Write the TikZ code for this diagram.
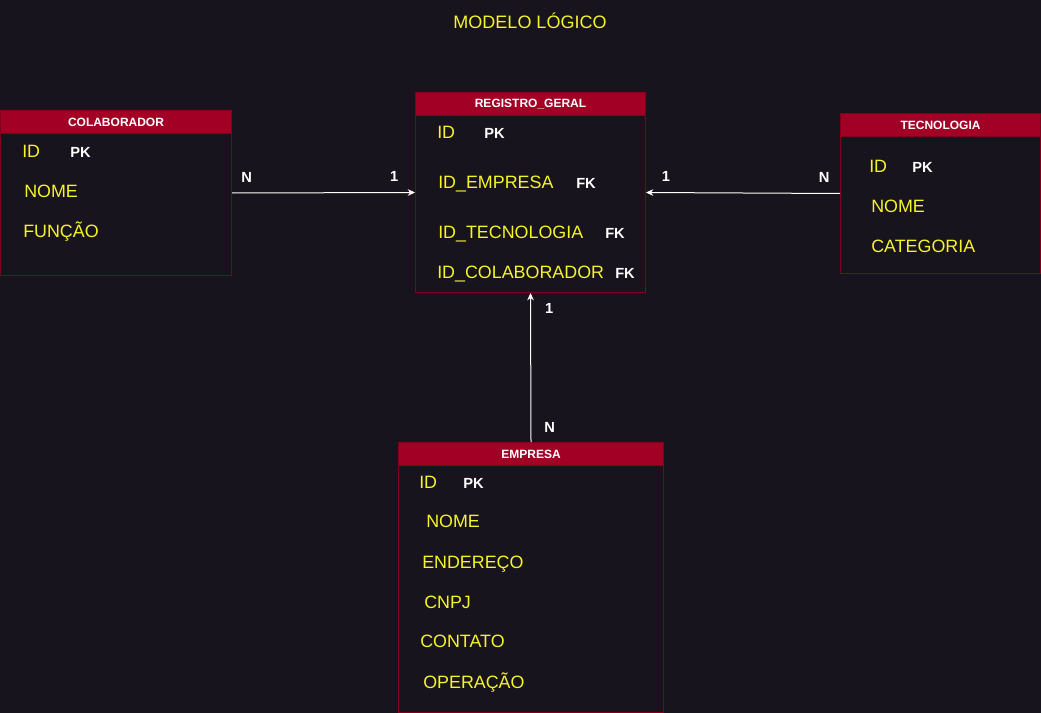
\documentclass[tikz,border=0pt]{standalone}
\usepackage{fontspec}
\setmainfont{Liberation Sans}
\usetikzlibrary{arrows.meta}
\definecolor{bgdark}{RGB}{24,20,29}
\definecolor{crimson}{HTML}{A20025}
\definecolor{crimsonline}{RGB}{128,0,28}
\definecolor{fieldyellow}{RGB}{245,245,40}

\begin{document}
\begin{tikzpicture}[x=0.75pt, y=-0.75pt,
    tablebox/.style={draw=crimsonline, line width=0.75pt, fill=bgdark, anchor=north west, inner sep=0pt},
    headbox/.style={draw=crimsonline, line width=0.75pt, fill=crimson, anchor=north west, inner sep=0pt,
        minimum height={23*0.75pt}, text=white, font=\bfseries\fontsize{9}{10}\selectfont},
    field/.style={anchor=base west, inner sep=0pt, text=fieldyellow, font=\fontsize{13.4}{15}\selectfont},
    key/.style={anchor=base west, inner sep=0pt, text=white, font=\bfseries\fontsize{11}{13}\selectfont},
    card/.style={inner sep=0pt, text=white, font=\bfseries\fontsize{11}{13}\selectfont},
    link/.style={draw=white, line width=0.75pt, -{Stealth[length=5.5pt, width=5pt]}}]

    \fill[bgdark] (0,0) rectangle (1041,713);
    \useasboundingbox (0,0) rectangle (1041,713);

    \node[text=fieldyellow, font=\fontsize{13.5}{15}\selectfont] (title) at (530,21) {MODELO LÓGICO};

    % tables
    \node[tablebox, minimum width={231*0.75pt}, minimum height={165*0.75pt}] (colab) at (0,110) {};
    \node[headbox, minimum width={231*0.75pt}] (colabhead) at (0,110) {COLABORADOR};
    \node[tablebox, minimum width={230*0.75pt}, minimum height={200*0.75pt}] (reg) at (415,92) {};
    \node[headbox, minimum width={230*0.75pt}] (reghead) at (415,92) {REGISTRO\_GERAL};
    \node[tablebox, minimum width={200*0.75pt}, minimum height={160*0.75pt}] (tec) at (840,113) {};
    \node[headbox, minimum width={200*0.75pt}] (techead) at (840,113) {TECNOLOGIA};
    \node[tablebox, minimum width={265*0.75pt}, minimum height={270*0.75pt}] (emp) at (398,442) {};
    \node[headbox, minimum width={265*0.75pt}] (emphead) at (398,442) {EMPRESA};

    % COLABORADOR
    \node[field] (colabid) at (22,157) {ID};
    \node[key] (colabpk) at (70,157) {PK};
    \node[field] (colabnome) at (24,197) {NOME};
    \node[field] (colabfuncao) at (23,237) {FUNÇÃO};

    % REGISTRO_GERAL
    \node[field] (regid) at (437,138.5) {ID};
    \node[key] (regpk) at (484,138.5) {PK};
    \node[field] (regemp) at (438,188.5) {ID\_EMPRESA};
    \node[key] (regfk1) at (576,188.5) {FK};
    \node[field] (regtec) at (438,238.5) {ID\_TECNOLOGIA};
    \node[key] (regfk2) at (605,238.5) {FK};
    \node[field] (regcolab) at (437,278.5) {ID\_COLABORADOR};
    \node[key] (regfk3) at (615,278.5) {FK};

    % TECNOLOGIA
    \node[field] (tecid) at (869,172.7) {ID};
    \node[key] (tecpk) at (912,172.7) {PK};
    \node[field] (tecnome) at (871,212.7) {NOME};
    \node[field] (teccat) at (871,252.7) {CATEGORIA};

    % EMPRESA
    \node[field] (empid) at (419,488.3) {ID};
    \node[key] (emppk) at (463,488.3) {PK};
    \node[field] (empnome) at (426,527.7) {NOME};
    \node[field] (empend) at (422,568.3) {ENDEREÇO};
    \node[field] (empcnpj) at (424,608.3) {CNPJ};
    \node[field] (empcontato) at (420,647.3) {CONTATO};
    \node[field] (empop) at (423,688.3) {OPERAÇÃO};

    % relationships
    \draw[link] (colab.east) -- node[card, pos=0.08, yshift=12pt] {N} node[card, pos=0.886, yshift=12pt] {1} (reg.west);
    \draw[link] (tec.west) -- node[card, pos=0.082, yshift=12pt] {N} node[card, pos=0.897, yshift=12pt] {1} (reg.east);
    \draw[link] (emp.north) -- node[card, pos=0.097, xshift=14pt] {N} node[card, pos=0.897, xshift=14pt] {1} (reg.south);
\end{tikzpicture}
\end{document}
